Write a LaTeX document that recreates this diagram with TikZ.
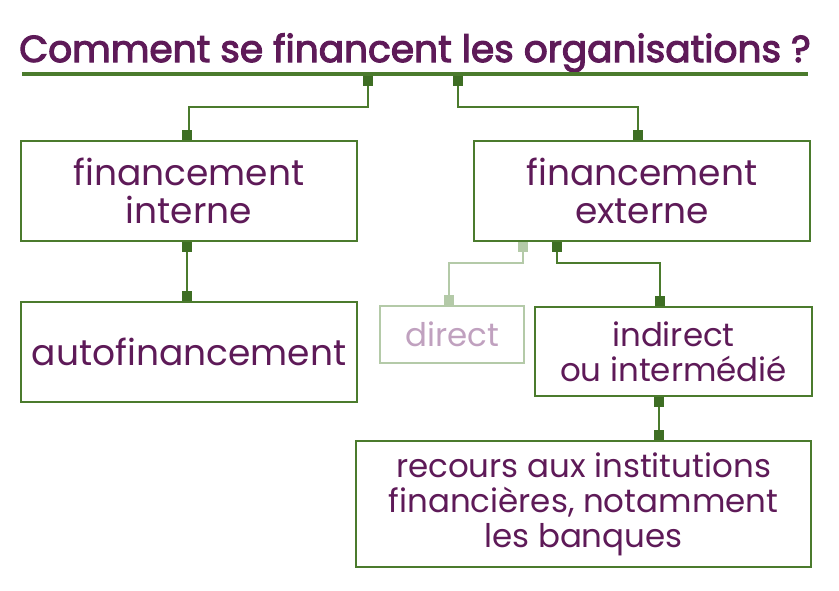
\documentclass[tikz,border=0pt]{standalone}
\usepackage{fontspec}
\setmainfont{Poppins}
\newfontfamily\titlefont{Poppins}[FakeBold=3]
\definecolor{frame}{HTML}{4B7B2D}
\definecolor{stubgreen}{HTML}{3E6E24}
\definecolor{plum}{HTML}{5E1A58}
\definecolor{palegreen}{HTML}{B4CAA8}
\definecolor{paleplum}{HTML}{C0A1BF}
\begin{document}
\begin{tikzpicture}[x=1pt,y=-1pt,
	box/.style={draw=frame,line width=2pt,text=plum,align=center,inner sep=0pt,font=\fontsize{36}{38}\selectfont},
	smallbox/.style={box,font=\fontsize{32.5}{35}\selectfont},
	link/.style={draw=frame,line width=1.5pt},
	stub/.style={fill=stubgreen,minimum size=10pt,inner sep=0pt,outer sep=0pt}]
	\useasboundingbox (0,0) rectangle (839,590);
	\node[anchor=base,text=plum,font=\titlefont\fontsize{37.5}{40}\selectfont] (title) at (415,62) {Comment se financent les organisations ?};
	\draw[frame,line width=4pt] (22,74) coordinate (rl) -- (808,74) coordinate (rr);
	\node[box,minimum width=336pt,minimum height=100pt] (intern) at (189,191) {financement\\interne};
	\node[box,minimum width=336pt,minimum height=100pt] (extern) at (642,191) {financement\\externe};
	\node[box,minimum width=336pt,minimum height=100pt] (auto) at (189,352) {autofinancement};
	\node[smallbox,draw=palegreen,text=paleplum,line width=1.5pt,minimum width=144pt,minimum height=57pt] (direct) at (452,334.5) {direct};
	\node[smallbox,minimum width=277pt,minimum height=89pt] (indirect) at (673.5,351.5) {indirect\\ou intermédié};
	\node[smallbox,minimum width=455pt,minimum height=126pt] (banks) at (583.5,504) {recours aux institutions\\financières, notamment\\les banques};
	% title to both branches
	\coordinate (t1) at (368,76);
	\coordinate (t2) at (458,76);
	\draw[link] (t1) -- ++(0,31) -| (intern.north);
	\draw[link] (t2) -- ++(0,31) -| ([xshift=-4pt]extern.north);
	\node[stub,anchor=north] at (t1) {};
	\node[stub,anchor=north] at (t2) {};
	\node[stub,anchor=south] at ([xshift=-2pt]intern.north) {};
	\node[stub,anchor=south] at ([xshift=-4pt]extern.north) {};
	% internal branch
	\draw[link] ([xshift=-2pt]intern.south) -- ([xshift=-2pt]auto.north);
	\node[stub,anchor=north] at ([xshift=-2pt]intern.south) {};
	\node[stub,anchor=south] at ([xshift=-2pt]auto.north) {};
	% external branch
	\coordinate (e1) at ([xshift=50pt]extern.south west);
	\coordinate (e2) at ([xshift=84pt]extern.south west);
	\draw[link,draw=palegreen] (e1) -- ++(0,21) -| ([xshift=-3pt]direct.north);
	\node[stub,fill=palegreen,anchor=north] at (e1) {};
	\node[stub,fill=palegreen,anchor=south] at ([xshift=-3pt]direct.north) {};
	\draw[link] (e2) -- ++(0,21) -| ([xshift=126pt]indirect.north west);
	\node[stub,anchor=north] at (e2) {};
	\node[stub,anchor=south] at ([xshift=126pt]indirect.north west) {};
	\coordinate (i1) at ([xshift=125pt]indirect.south west);
	\draw[link] (i1) -- (i1 |- banks.north);
	\node[stub,anchor=north] at (i1) {};
	\node[stub,anchor=south] at (i1 |- banks.north) {};
\end{tikzpicture}
\end{document}
